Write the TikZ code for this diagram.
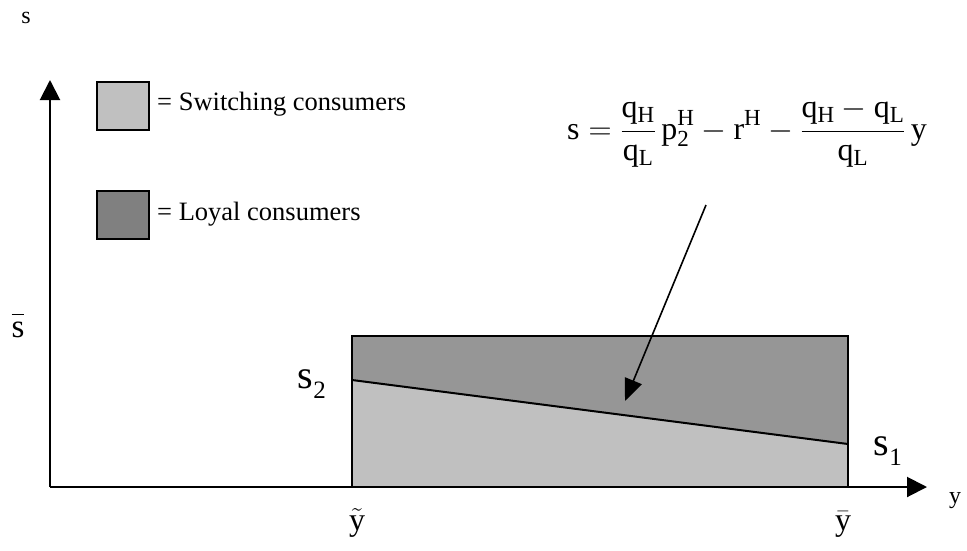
\documentclass[tikz,border=0pt]{standalone}
\usepackage{fix-cm}
\usepackage{fontspec}
\setmainfont{Liberation Serif}
\usetikzlibrary{arrows.meta}
\DeclareMathSizes{32}{32}{23}{17}
\definecolor{lightg}{gray}{0.753}
\definecolor{darkg}{gray}{0.588}
\definecolor{legdark}{gray}{0.502}
\tikzset{
  axis/.style={line width=2pt,-{Triangle[length=20pt,width=20pt]}},
  legbox/.style={draw,line width=2pt,minimum width=52pt,minimum height=48pt,inner sep=0pt},
  lbl/.style={inner sep=0pt,anchor=base},
  legtxt/.style={inner sep=0pt,anchor=base west,font=\fontsize{26.5}{30}\selectfont},
  sublbl/.style={inner sep=0pt,anchor=base west,font=\fontsize{40}{44}\selectfont},
}
\newcommand{\mysub}[1]{\hspace{0.5pt}\raisebox{-10pt}{\fontsize{25}{28}\selectfont #1}}
\begin{document}
\begin{tikzpicture}[x=1pt,y=-1pt]
\useasboundingbox (0,0) rectangle (967,550);
% regions
\coordinate (O) at (50,487);
\coordinate (r1) at (352,487);
\coordinate (r2) at (848,487);
\coordinate (r3) at (848,336);
\coordinate (r4) at (352,336);
\coordinate (l1) at (352,380);
\coordinate (l2) at (848,444);
\fill[darkg] (r1) rectangle (r3);
\fill[lightg] (r1) -- (r2) -- (l2) -- (l1) -- cycle;
\draw[line width=1.6pt] (r1) rectangle (r3);
\draw[line width=2pt] (l1) -- (l2);
% axes
\coordinate (ytip) at (50,80);
\coordinate (xtip) at (927,487);
\draw[axis] (O) -- (ytip);
\draw[axis] (O) -- (xtip);
% legend
\node[legbox,fill=lightg] (lb1) at (123,106) {};
\node[legbox,fill=legdark] (lb2) at (123,214.5) {};
\node[legtxt] (lt1) at (157,110) {= Switching consumers};
\node[legtxt] (lt2) at (157,220) {= Loyal consumers};
% labels
\node[lbl,font=\fontsize{24}{28}\selectfont] (sax) at (26,23) {s};
\node[lbl,font=\fontsize{24}{28}\selectfont] (yax) at (955,503) {y};
\node[lbl,font=\fontsize{33}{38}\selectfont] (sbar) at (18,337) {$\overline{\mathrm{s}\vphantom{i}}$};
\node[lbl,font=\fontsize{32}{38}\selectfont] (ytil) at (357,530) {$\tilde{\mathrm{y}}$};
\node[lbl,font=\fontsize{32}{38}\selectfont] (ybar) at (843,530) {$\bar{\mathrm{y}}$};
\node[sublbl] (s2) at (297,388) {s\mysub{2}};
\node[sublbl] (s1) at (873,455) {s\mysub{1}};
% formula
\node[inner sep=0pt,anchor=base west,font=\fontsize{32}{38}\selectfont] (eq) at (567,139)
 {$\displaystyle \mathrm{s}=\frac{\mathrm{q}_{\mathrm{H}}}{\mathrm{q}_{\mathrm{L}}}\,\mathrm{p}^{\mathrm{H}}_{\mathrm{2}}-\mathrm{r}^{\mathrm{H}}-\frac{\mathrm{q}_{\mathrm{H}}-\mathrm{q}_{\mathrm{L}}}{\mathrm{q}_{\mathrm{L}}}\,\mathrm{y}$};
\coordinate (astart) at (706,205);
\coordinate (atip) at (625,401);
\draw[line width=1.6pt,-{Triangle[length=22pt,width=18pt]}] (astart) -- (atip);
\end{tikzpicture}
\end{document}
